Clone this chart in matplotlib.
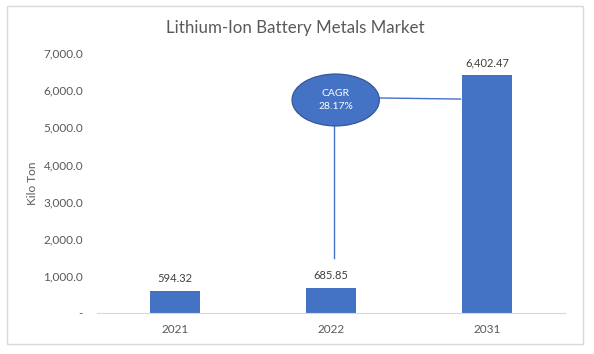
import matplotlib.pyplot as plt
from matplotlib.patches import Ellipse, Rectangle

years = ["2021", "2022", "2031"]
volumes = [594.32, 685.85, 6402.47]
value_labels = ["594.32", "685.85", "6,402.47"]
y_ticks = [0, 1000, 2000, 3000, 4000, 5000, 6000, 7000]
y_tick_labels = ["-", "1,000.0", "2,000.0", "3,000.0", "4,000.0", "5,000.0", "6,000.0", "7,000.0"]
cagr_text = "CAGR\n28.17%"

blue = "#4472C4"
grey_text = "#595959"

plt.rcParams["font.family"] = ["Lato", "DejaVu Sans"]

fig = plt.figure(figsize=(5.94, 3.54), dpi=100)
ax = fig.add_axes([97 / 594, 1 - 313 / 354, (565 - 97) / 594, (313 - 53) / 354])

x = list(range(len(years)))
ax.bar(x, volumes, width=0.32, color=blue, zorder=2)
for xi, v, lab in zip(x, volumes, value_labels):
    ax.annotate(lab, (xi, v), xytext=(0, 5), textcoords="offset points",
                ha="center", va="bottom", fontsize=8, color="#404040")

ax.set_xlim(-0.5, 2.5)
ax.set_ylim(0, 7000)
ax.set_xticks(x)
ax.set_xticklabels(years)
ax.set_yticks(y_ticks)
ax.set_yticklabels(y_tick_labels)
ax.tick_params(axis="both", length=0, labelsize=8.5, colors=grey_text)
ax.tick_params(axis="y", pad=10)
ax.tick_params(axis="x", pad=8)
for side in ["top", "left", "right"]:
    ax.spines[side].set_visible(False)
ax.spines["bottom"].set_color("#D9D9D9")
ax.set_ylabel("Kilo Ton", fontsize=8.5, color=grey_text, labelpad=4)

# CAGR bubble with connectors
ax.plot([1.02, 1.02], [1480, 5060], color=blue, lw=1, zorder=3)
ax.plot([1.3, 1.83], [5790, 5760], color=blue, lw=1, zorder=3)
ax.add_patch(Ellipse((1.03, 5735), 0.56, 1400, facecolor=blue, edgecolor="#2F528F",
                     lw=0.8, zorder=4))
ax.text(1.03, 5735, cagr_text, ha="center", va="center", fontsize=7.5,
        color="white", zorder=5, linespacing=1.5)

fig.text(295 / 594, 1 - 28 / 354, "Lithium-Ion Battery Metals Market", ha="center",
         va="center", fontsize=12.2, color="#595959")

fig.patches.append(Rectangle((7 / 594, 1 - 344 / 354), 576 / 594, 338 / 354,
                             transform=fig.transFigure, fill=False,
                             edgecolor="#D9D9D9", lw=1))

fig.savefig("out.png", dpi=100)
